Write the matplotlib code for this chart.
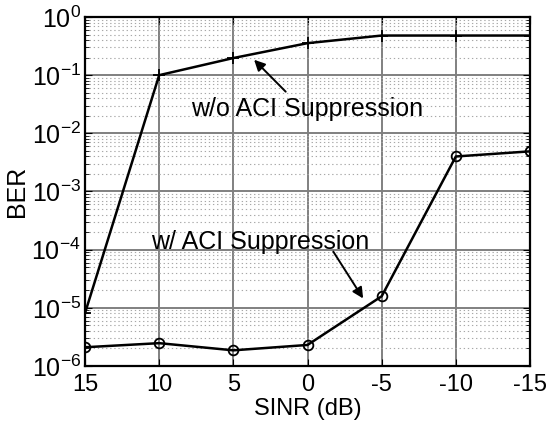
import numpy as np
import matplotlib
matplotlib.use('Agg')
import matplotlib.pyplot as plt
from matplotlib.ticker import FixedLocator, NullFormatter, NullLocator

plt.rcParams['font.family'] = ['Liberation Sans', 'DejaVu Sans']

# SINR values (dB) and BER curves
sinr = [15, 10, 5, 0, -5, -10, -15]
ber_without = [8.1e-6, 0.1, 0.197, 0.355, 0.48, 0.48, 0.48]
ber_with = [2.1e-6, 2.47e-6, 1.86e-6, 2.3e-6, 1.58e-5, 4.0e-3, 4.9e-3]
decades = [-6, -5, -4, -3, -2, -1, 0]

fig = plt.figure(figsize=(5.49, 4.23), dpi=100)
ax = fig.add_axes([85/549, 1 - 366/423, (530-85)/549, (366-17)/423])

ax.semilogy(sinr, ber_without, 'k-', marker='+', ms=8, mew=1.3, lw=1.8)
ax.semilogy(sinr, ber_with, 'k-', marker='o', ms=7, mfc='none', mew=1.3, lw=1.8)

ax.set_xlim(15, -15)
ax.set_ylim(1e-6, 1)
ax.set_xticks(sinr)
ax.set_xticklabels([str(v) for v in sinr])
ax.xaxis.set_minor_locator(NullLocator())
ax.set_yticks([10.0**d for d in decades])
ax.set_yticklabels(['$\\mathdefault{10^{%s}}$' % str(d).replace('-', '\u2212') for d in decades])
minors = [m * 10.0**d for d in decades[:-1] for m in range(2, 10)]
ax.yaxis.set_minor_locator(FixedLocator(minors))
ax.yaxis.set_minor_formatter(NullFormatter())

ax.grid(True, which='major', color='#808080', lw=1.4, ls='-')
ax.grid(True, which='minor', axis='y', color='#a8a8a8', lw=0.8, ls=(0, (1.2, 2.5)))
ax.set_axisbelow(True)

ax.tick_params(which='both', direction='in', top=True, right=True, labelsize=18)
ax.tick_params(axis='x', pad=6, labelsize=17)
ax.tick_params(axis='y', pad=3)
ax.tick_params(which='minor', axis='y', length=3)
ax.tick_params(which='major', length=5)
for s in ax.spines.values():
    s.set_linewidth(1.6)

ax.set_xlabel('SINR (dB)', fontsize=17, labelpad=1)
ax.set_ylabel('BER', fontsize=18, labelpad=2)

arrow = dict(arrowstyle='-|>', color='k', lw=1.4, mutation_scale=16, shrinkA=0, shrinkB=0)
ax.text(0.0, 0.026, 'w/o ACI Suppression', fontsize=18, ha='center', va='center')
ax.annotate('', xy=(3.6, 0.184), xytext=(1.47, 0.052), arrowprops=arrow)
ax.text(3.2, 1.37e-4, 'w/ ACI Suppression', fontsize=18, ha='center', va='center')
ax.annotate('', xy=(-3.75, 1.45e-5), xytext=(-1.74, 9.25e-5), arrowprops=arrow)

fig.savefig('out.png', dpi=100)
